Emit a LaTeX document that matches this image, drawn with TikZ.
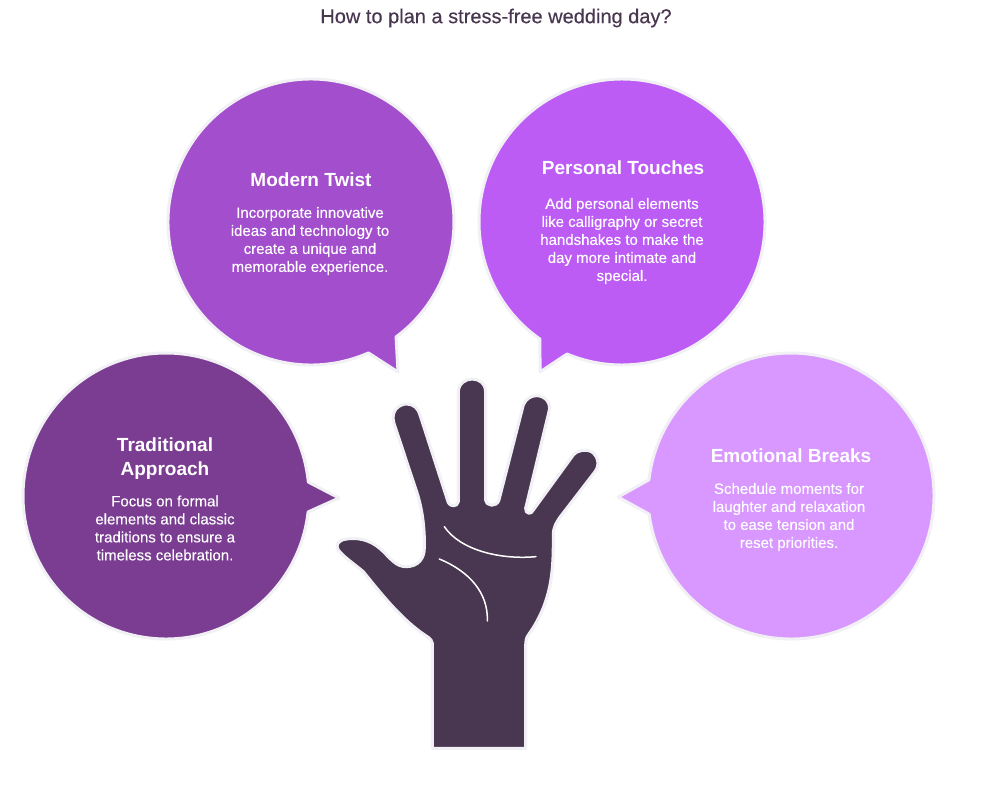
\documentclass[tikz,border=0pt]{standalone}
\usepackage{fontspec}
\setmainfont{Liberation Sans}
\newfontfamily\mediumfont[FakeBold=0.25]{Liberation Sans}
\definecolor{twistcolor}{HTML}{A34ECD}
\definecolor{touchcolor}{HTML}{BC5CF5}
\definecolor{tradcolor}{HTML}{7A3D91}
\definecolor{breakcolor}{HTML}{D998FF}
\definecolor{handcolor}{HTML}{493650}
\definecolor{haloline}{HTML}{F1F0F4}
\tikzset{
    bubble/.style = {draw = haloline, line width = 3pt, line join = round},
    heading/.style = {text = white, font = \fontsize{19}{24}\selectfont\bfseries, align = center, inner sep = 0pt},
    bodytext/.style = {text = white, font = \mediumfont\fontsize{15}{18}\selectfont, align = center, inner sep = 0pt},
    palmline/.style = {draw = white, line width = 1.5pt, line cap = round}
}
\begin{document}
\begin{tikzpicture}[x = 1pt, y = -1pt]
    \useasboundingbox (0,0) rectangle (992,792);
    \node[text = handcolor, font = \mediumfont\fontsize{20}{24}\selectfont, inner sep = 0pt] (title) at (496,18) {How to plan a stress-free wedding day?};

    % speech bubbles
    \draw[bubble, fill = twistcolor] (311,222) ++(66.3:143) arc (66.3:413.5:143) -- (398,372) -- cycle;
    \draw[bubble, fill = touchcolor] (622,222) ++(125:143) arc (125:472.6:143) -- (540,372) -- cycle;
    \draw[bubble, fill = tradcolor] (166,496) ++(6.4:143) arc (6.4:354.4:143) -- (339,498) -- cycle;
    \draw[bubble, fill = breakcolor] (791,496) ++(186.5:143) arc (186.5:532.7:143) -- (618,497) -- cycle;

    \node[heading] (twisthead) at (311,180) {Modern Twist};
    \node[bodytext] (twisttext) at (310,241) {Incorporate innovative\\ideas and technology to\\create a unique and\\memorable experience.};
    \node[heading] (touchhead) at (623,168) {Personal Touches};
    \node[bodytext] (touchtext) at (622,241) {Add personal elements\\like calligraphy or secret\\handshakes to make the\\day more intimate and\\special.};
    \node[heading] (tradhead) at (165,459) {Traditional\\Approach};
    \node[bodytext] (tradtext) at (165,528) {Focus on formal\\elements and classic\\traditions to ensure a\\timeless celebration.};
    \node[heading] (breakhead) at (791,456) {Emotional Breaks};
    \node[bodytext] (breaktext) at (789,517) {Schedule moments for\\laughter and relaxation\\to ease tension and\\reset priorities.};

    % hand
    \begin{scope}[shift = {(320,360)}, x = 0.3333pt, y = -0.3333pt]
        \draw[bubble, fill = handcolor] (337,1165) -- (337,850)
            .. controls (335,835) and (320,830) .. (300,815)
            .. controls (240,770) and (190,710) .. (130,635)
            .. controls (100,610) and (70,590) .. (55,570)
            .. controls (45,555) and (55,540) .. (80,537)
            .. controls (130,530) and (165,550) .. (190,575)
            .. controls (215,600) and (230,620) .. (258,620)
            .. controls (295,620) and (313,595) .. (313,565)
            .. controls (315,500) and (305,440) .. (290,395)
            -- (222,190)
            .. controls (210,150) and (240,132) .. (260,132)
            .. controls (280,132) and (295,145) .. (300,165)
            -- (385,428)
            .. controls (390,440) and (412,442) .. (415,425)
            -- (415,97)
            .. controls (415,70) and (437,57) .. (457,57)
            .. controls (477,57) and (497,70) .. (497,97)
            -- (497,420)
            .. controls (500,440) and (530,442) .. (537,420)
            -- (610,135)
            .. controls (618,115) and (635,107) .. (650,107)
            .. controls (675,107) and (695,130) .. (687,155)
            -- (617,445)
            .. controls (615,462) and (635,465) .. (640,450)
            -- (760,285)
            .. controls (775,268) and (800,268) .. (815,275)
            .. controls (835,290) and (840,315) .. (825,335)
            -- (725,465)
            .. controls (710,485) and (700,500) .. (700,525)
            .. controls (700,620) and (700,720) .. (625,825)
            .. controls (618,835) and (617,845) .. (617,855)
            -- (617,1165) -- cycle;
        \draw[palmline] (373,500) .. controls (420,570) and (540,600) .. (648,590);
        \draw[palmline] (358,597) .. controls (450,635) and (505,700) .. (502,783);
    \end{scope}
\end{tikzpicture}
\end{document}
